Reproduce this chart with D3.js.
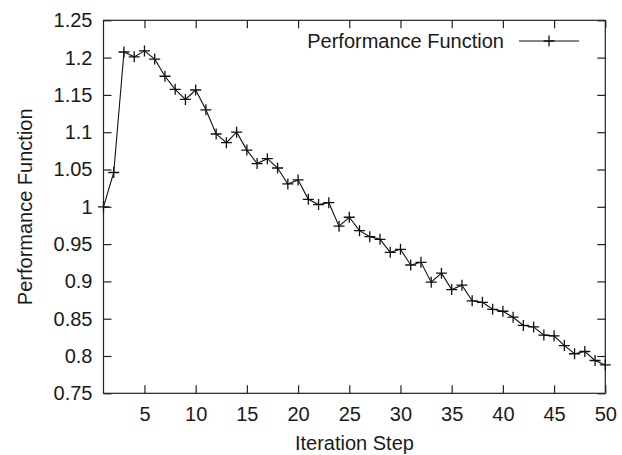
<!DOCTYPE html>
<html><head><meta charset="utf-8">
<script src="https://cdn.jsdelivr.net/npm/d3@7"></script>
<style>body{margin:0;background:#fff}svg{display:block}text{font-family:"Liberation Sans",Arial,sans-serif;fill:#1a1a1a}</style>
</head><body>
<script>
const steps = d3.range(1, 51);
const perf = [1.000,1.046,1.2075,1.201,1.209,1.198,1.175,1.1575,1.144,1.1566,
  1.130,1.0976,1.086,1.100,1.076,1.058,1.0645,1.052,1.0306,1.036,
  1.010,1.003,1.0055,0.974,0.986,0.968,0.960,0.9564,0.939,0.943,
  0.922,0.9256,0.899,0.911,0.889,0.895,0.874,0.872,0.8626,0.860,
  0.852,0.841,0.839,0.828,0.827,0.814,0.803,0.806,0.794,0.788];
const xTicks = [5,10,15,20,25,30,35,40,45,50];
const yTicks = [0.75,0.8,0.85,0.9,0.95,1,1.05,1.1,1.15,1.2,1.25];
const seriesName = "Performance Function";
const xTitle = "Iteration Step";
const yTitle = "Performance Function";

const W = 622, H = 455;
const L = 103.5, R = 605.3, T = 20.3, B = 393.3;
const svg = d3.select("body").append("svg").attr("width", W).attr("height", H);
const x = d3.scaleLinear().domain([1, 50]).range([L, R]);
const y = d3.scaleLinear().domain([0.75, 1.25]).range([B, T]);
const tl = 8, fs = 20, col = "#222";

// frame
svg.append("rect").attr("x", L).attr("y", T).attr("width", R - L).attr("height", B - T)
  .attr("fill", "none").attr("stroke", col).attr("stroke-width", 1.2);

// x ticks (bottom + mirrored top)
const xa = d3.axisBottom(x).tickValues(xTicks).tickSize(-tl).tickPadding(14).tickFormat(d3.format("d"));
const gx = svg.append("g").attr("transform", `translate(0,${B})`).call(xa);
const xt = d3.axisTop(x).tickValues(xTicks).tickSize(-tl).tickFormat("");
const gxt = svg.append("g").attr("transform", `translate(0,${T})`).call(xt);
// y ticks (left + mirrored right)
const ya = d3.axisLeft(y).tickValues(yTicks).tickSize(-tl).tickPadding(11).tickFormat(d => String(+d.toFixed(2)));
const gy = svg.append("g").attr("transform", `translate(${L},0)`).call(ya);
const yr = d3.axisRight(y).tickValues(yTicks).tickSize(-tl).tickFormat("");
const gyr = svg.append("g").attr("transform", `translate(${R},0)`).call(yr);
[gx, gxt, gy, gyr].forEach(g => {
  g.select(".domain").remove();
  g.selectAll("line").attr("stroke", col).attr("stroke-width", 1.2);
  g.selectAll("text").attr("font-size", fs).attr("fill", "#1a1a1a")
    .attr("font-family", '"Liberation Sans",Arial,sans-serif');
});

// line
const data = steps.map((s, i) => ({s, v: perf[i]}));
svg.append("path").datum(data)
  .attr("d", d3.line().x(d => x(d.s)).y(d => y(d.v)))
  .attr("fill", "none").attr("stroke", "#111").attr("stroke-width", 1.1);
// + markers
const m = 5.5;
const plus = (px, py) => `M${px - m},${py}H${px + m}M${px},${py - m}V${py + m}`;
svg.append("path")
  .attr("d", data.map(d => plus(x(d.s), y(d.v))).join(""))
  .attr("stroke", "#111").attr("stroke-width", 1.3).attr("fill", "none");

// legend
const ly = 41;
svg.append("text").attr("x", 504).attr("y", ly).attr("dy", "0.35em").attr("text-anchor", "end")
  .attr("font-size", fs).text(seriesName);
svg.append("line").attr("x1", 519).attr("x2", 579).attr("y1", ly).attr("y2", ly)
  .attr("stroke", "#111").attr("stroke-width", 1.1);
svg.append("path").attr("d", plus(549, ly)).attr("stroke", "#111").attr("stroke-width", 1.3);

// axis titles
svg.append("text").attr("x", (L + R) / 2).attr("y", 450).attr("text-anchor", "middle")
  .attr("font-size", fs).text(xTitle);
svg.append("text").attr("transform", `translate(32,${(T + B) / 2}) rotate(-90)`)
  .attr("text-anchor", "middle").attr("font-size", fs).text(yTitle);
</script>
</body></html>
